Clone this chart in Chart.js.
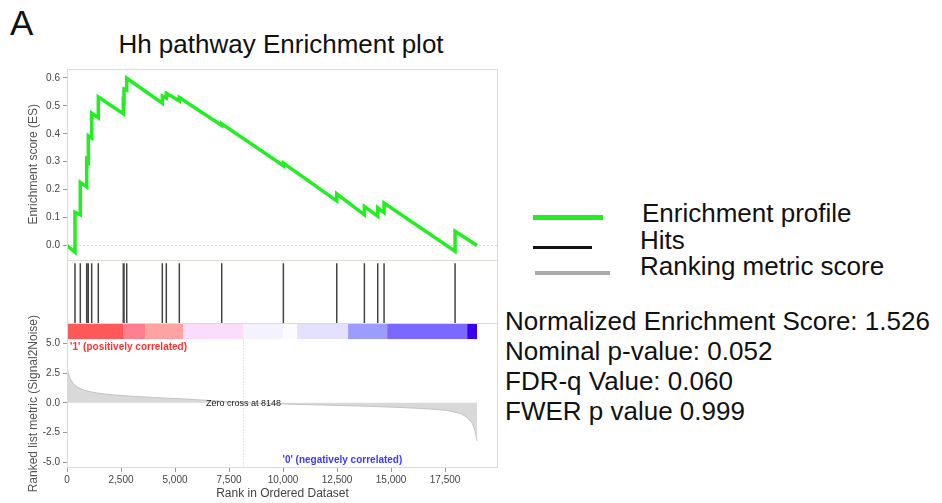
<!DOCTYPE html>
<html>
<head>
<meta charset="utf-8">
<script src="https://cdn.jsdelivr.net/npm/chart.js@4.4.1/dist/chart.umd.min.js"></script>
<style>
  body { margin: 0; background: #fff; font-family: "Liberation Sans", Arial, sans-serif; color: #111; }
  #page { position: relative; width: 942px; height: 503px; overflow: hidden; }
  .t { position: absolute; white-space: nowrap; font-size: 26px; line-height: 26px; }
  .ln { position: absolute; }
  #gsea { position: absolute; left: 0; top: 60px; }
</style>
</head>
<body>
<div id="page">
  <div class="t" style="left:10px;top:5px;font-size:35px;line-height:35px">A</div>
  <div class="t" style="left:0;width:562px;text-align:center;top:31px">Hh pathway Enrichment plot</div>

  <!-- legend -->
  <div class="ln" style="left:533px;top:215px;width:70px;height:5px;background:#22ee22"></div>
  <div class="ln" style="left:533px;top:246px;width:59px;height:3px;background:#111"></div>
  <div class="ln" style="left:535px;top:271px;width:75px;height:4px;background:#aaa"></div>
  <div class="t" style="left:642px;top:200px">Enrichment profile</div>
  <div class="t" style="left:640px;top:227px">Hits</div>
  <div class="t" style="left:640px;top:253px">Ranking metric score</div>

  <!-- stats -->
  <div class="t" style="left:505px;top:308px">Normalized Enrichment Score: 1.526</div>
  <div class="t" style="left:505px;top:338px">Nominal p-value: 0.052</div>
  <div class="t" style="left:505px;top:368px">FDR-q Value: 0.060</div>
  <div class="t" style="left:505px;top:398px">FWER p value 0.999</div>

  <canvas id="gsea" width="505" height="443"></canvas>
</div>

<script>
// running enrichment score, read at each hit (before / after the step)
const esRank  = [0, 370, 370, 616, 616, 912, 912, 986, 986, 1143, 1143, 1449, 1449, 2606, 2606, 2639, 2639, 2764, 2764,
                 4412, 4412, 4597, 4597, 5199, 5199, 7162, 7162, 10015, 10015, 12485, 12485, 13765, 13765,
                 14383, 14383, 14676, 14676, 17963, 17963, 18981];
const esScore = [0, -0.024, 0.119, 0.11, 0.226, 0.21, 0.307, 0.30, 0.393, 0.385, 0.474, 0.458, 0.532, 0.472, 0.518, 0.515, 0.56, 0.556, 0.599,
                 0.51, 0.535, 0.528, 0.545, 0.518, 0.53, 0.43, 0.436, 0.286, 0.295, 0.16, 0.185, 0.11, 0.14,
                 0.105, 0.135, 0.118, 0.152, -0.02, 0.051, 0];

// gene set members in the ranked list
const hitRanks = [370, 616, 912, 986, 1143, 1449, 2606, 2639, 2764, 4412, 4597, 5199, 7162,
                  10015, 12485, 13765, 14383, 14676, 17963];

// ranked list metric (Signal2Noise)
const metricRank  = [0, 60, 150, 300, 500, 800, 1200, 1700, 2300, 3000, 4000, 5000, 6000, 7000, 8148,
                     9500, 11000, 12500, 14000, 15500, 16800, 17600, 18200, 18500, 18750, 18880, 18981];
const metricValue = [3.1, 2.5, 2.0, 1.6, 1.3, 1.05, 0.88, 0.75, 0.64, 0.55, 0.45, 0.36, 0.26, 0.15, 0,
                     -0.08, -0.15, -0.22, -0.3, -0.4, -0.52, -0.65, -0.9, -1.2, -1.7, -2.3, -3.2];
const zeroCross = 8148;

// colour bar segment edges (rank)
const barEdges = [0, 2593, 3611, 5370, 8148, 10015, 10648, 13009, 14815, 18519, 18981];

const esTicks = [0, 0.1, 0.2, 0.3, 0.4, 0.5, 0.6];
const metricTicks = [5, 2.5, 0, -2.5, -5];
const rankTicks = [0, 2500, 5000, 7500, 10000, 12500, 15000, 17500];

const barColors = ['#ff5858', '#ff7e90', '#ffa2a2', '#fcdcfc', '#f4f2fe', '#fcfcff',
                   '#e4e0ff', '#9c9cff', '#7b68ff', '#3a00e6'];
const FONT = '"Liberation Sans", Arial, sans-serif';

const pts = (xs, ys) => xs.map((x, i) => ({ x, y: ys[i] }));
const hitPts = hitRanks.flatMap(r => [{ x: r, y: 0 }, { x: r, y: 1 }, { x: r, y: null }]);

const barSets = barColors.map((c, i) => ({
  type: 'line', yAxisID: 'yBar',
  data: [{ x: barEdges[i], y: 1 }, { x: barEdges[i + 1], y: 1 }],
  borderWidth: 0, pointRadius: 0, fill: 'start', backgroundColor: c
}));

const fixW = s => { s.width = 67; };
const tickFont = { family: FONT, size: 10 };
const blank = { display: true, ticks: { display: false }, grid: { display: false }, border: { display: false } };

const panels = {
  id: 'panels',
  afterDatasetsDraw(chart) {
    const { ctx, chartArea: a, scales } = chart;
    const x = scales.x, m = scales.yMetric;
    ctx.save();
    // zero cross marker
    const zx = Math.round(x.getPixelForValue(zeroCross)) + 0.5;
    ctx.strokeStyle = '#cfcfcf'; ctx.setLineDash([1, 2]); ctx.lineWidth = 1;
    ctx.beginPath(); ctx.moveTo(zx, m.top); ctx.lineTo(zx, m.bottom); ctx.stroke();
    ctx.setLineDash([]);
    // frame and panel separators
    ctx.strokeStyle = '#dcdcd2';
    ctx.strokeRect(a.left + 0.5, a.top + 0.5, a.width - 1, a.height - 1);
    ctx.beginPath();
    ['yES', 'yHits'].forEach(id => {
      const y = Math.round(scales[id].bottom) + 0.5;
      ctx.moveTo(a.left, y); ctx.lineTo(a.right, y);
    });
    ctx.stroke();
    // labels
    ctx.font = 'bold 10px ' + FONT; ctx.textBaseline = 'alphabetic'; ctx.textAlign = 'left';
    ctx.fillStyle = '#ff3030';
    ctx.fillText("'1' (positively correlated)", a.left + 3, m.top + 11);
    ctx.fillStyle = '#3a3aff';
    ctx.fillText("'0' (negatively correlated)", a.left + a.width * 0.5, m.bottom - 5);
    ctx.font = '9px ' + FONT; ctx.fillStyle = '#222'; ctx.textAlign = 'center'; ctx.textBaseline = 'middle';
    ctx.fillText('Zero cross at ' + zeroCross, zx, m.getPixelForValue(0) + 1);
    ctx.restore();
  }
};

new Chart(document.getElementById('gsea'), {
  type: 'line',
  data: {
    datasets: [
      { yAxisID: 'yES', data: pts(esRank, esScore), borderColor: '#22ee22', borderWidth: 3.5,
        pointRadius: 0, fill: false, tension: 0 },
      { yAxisID: 'yHits', data: hitPts, borderColor: '#444', borderWidth: 1.5, pointRadius: 0,
        spanGaps: false, fill: false },
      ...barSets,
      { yAxisID: 'yMetric', data: pts(metricRank, metricValue), borderColor: '#c4c4c4', borderWidth: 1,
        pointRadius: 0, fill: 'origin', backgroundColor: '#d9d9d9' }
    ]
  },
  options: {
    responsive: false,
    animation: false,
    layout: { padding: { top: 8, right: 7, left: 0, bottom: 0 } },
    plugins: { legend: { display: false }, tooltip: { enabled: false } },
    scales: {
      x: {
        type: 'linear', min: 0, max: 19950,
        afterBuildTicks: s => { s.ticks = rankTicks.map(v => ({ value: v })); },
        afterFit: s => { s.height = 35; },
        ticks: { font: tickFont, color: '#444', padding: 2, maxRotation: 0, callback: v => v.toLocaleString('en-US') },
        grid: { display: true, drawOnChartArea: false, tickLength: 4, color: '#999' },
        border: { display: false },
        title: { display: true, text: 'Rank in Ordered Dataset', color: '#444',
                 font: { family: FONT, size: 12 }, padding: { top: 0, bottom: 2 } }
      },
      // listed bottom to top: the last left scale of a stack is placed on top
      yMetric: {
        type: 'linear', position: 'left', stack: 'gsea', stackWeight: 129, min: -5.5, max: 5.35,
        afterBuildTicks: s => { s.ticks = metricTicks.map(v => ({ value: v })); },
        afterFit: fixW,
        ticks: { font: tickFont, color: '#444', padding: 3, callback: v => v.toFixed(1) },
        grid: { color: 'transparent', tickColor: '#999', tickLength: 4 },
        border: { display: false },
        title: { display: true, text: 'Ranked list metric (Signal2Noise)', color: '#555',
                 font: { family: FONT, size: 12 }, padding: { top: 26, bottom: 0 } }
      },
      yBar: { type: 'linear', position: 'left', stack: 'gsea', stackWeight: 16, min: 0, max: 1,
              afterFit: fixW, ...blank },
      yHits: { type: 'linear', position: 'left', stack: 'gsea', stackWeight: 64, min: 0, max: 1.0625,
               afterFit: fixW, ...blank },
      yES: {
        type: 'linear', position: 'left', stack: 'gsea', stackWeight: 191, min: -0.05, max: 0.632,
        afterBuildTicks: s => { s.ticks = esTicks.map(v => ({ value: v })); },
        afterFit: fixW,
        ticks: { font: tickFont, color: '#444', padding: 3, callback: v => v.toFixed(1) },
        grid: { color: c => (c.tick && c.tick.value === 0 ? '#d6d6d6' : 'transparent'), tickColor: '#999', tickLength: 4 },
        border: { display: false, dash: [2, 2] },
        title: { display: true, text: 'Enrichment score (ES)', color: '#555',
                 font: { family: FONT, size: 12 }, padding: { top: 26, bottom: 0 } }
      }
    }
  },
  plugins: [panels]
});
</script>
</body>
</html>
